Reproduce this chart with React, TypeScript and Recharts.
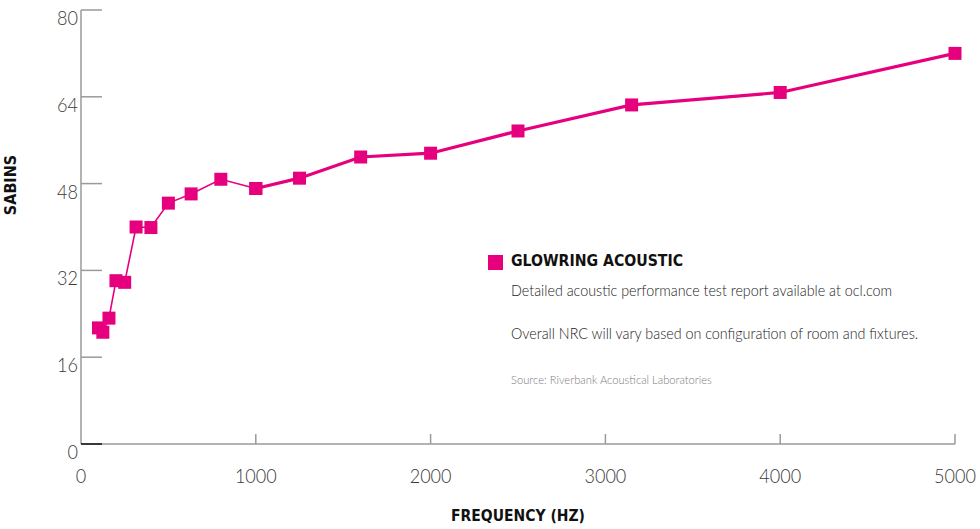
import React from "react";
import { Line, LineChart, XAxis, YAxis } from "recharts";

// third-octave band centre frequencies (Hz)
const frequencies = [100, 125, 160, 200, 250, 315, 400, 500, 630, 800, 1000, 1250, 1600, 2000, 2500, 3150, 4000, 5000];
// sabins
const sabins = [21.4, 20.6, 23.2, 30.1, 29.8, 40.0, 39.9, 44.4, 46.1, 48.8, 47.1, 49.0, 52.9, 53.6, 57.7, 62.5, 64.8, 72.0];

const xTicks = [0, 1000, 2000, 3000, 4000, 5000];
const yTicks = [0, 16, 32, 48, 64, 80];

const seriesName = "GLOWRING ACOUSTIC";
const noteLines = [
  "Detailed acoustic performance test report available at ocl.com",
  "Overall NRC will vary based on configuration of room and fixtures.",
];
const sourceNote = "Source: Riverbank Acoustical Laboratories";

const PINK = "#e6007e";
const AXIS = "#9a9a9a";
const LIGHT = "Lato, 'Open Sans', sans-serif";
const BOLD = "'DejaVu Sans Condensed', 'DejaVu Sans', sans-serif";

// the line is drawn thinner below 1 kHz than above it
const data = frequencies.map((f, i) => ({
  freq: f,
  low: f <= 1000 ? sabins[i] : null,
  high: f >= 1000 ? sabins[i] : null,
}));

const SquareDot = (props: any) => {
  const { cx, cy, value } = props;
  if (value == null || cx == null || cy == null) return null;
  return <rect x={cx - 6.5} y={cy - 6.5} width={13} height={13} fill={PINK} />;
};

const YTick = (props: any) => {
  const { x, y, payload } = props;
  const axisX = x + 3;
  return (
    <g>
      <line x1={axisX} x2={axisX + 21} y1={y} y2={y} stroke={payload.value === 0 ? "#111" : AXIS} strokeWidth={1.5} />
      <text
        transform={`translate(${x},${y + 15}) scale(0.88,1)`}
        textAnchor="end"
        fontFamily={LIGHT}
        fontWeight={300}
        fontSize={20.5}
        fill="#3a3a3a"
      >
        {payload.value}
      </text>
    </g>
  );
};

const XTick = (props: any) => {
  const { x, y, payload } = props;
  const axisY = y - 24;
  return (
    <g>
      {payload.value !== 0 && <line x1={x} x2={x} y1={axisY} y2={axisY - 10} stroke={AXIS} strokeWidth={1.5} />}
      <text
        transform={`translate(${x},${y + 15}) scale(0.88,1)`}
        textAnchor="middle"
        fontFamily={LIGHT}
        fontWeight={300}
        fontSize={20.5}
        fill="#3a3a3a"
      >
        {payload.value}
      </text>
    </g>
  );
};

const noteStyle: React.CSSProperties = {
  position: "absolute",
  left: 511,
  whiteSpace: "nowrap",
  lineHeight: 1,
  fontFamily: LIGHT,
  fontWeight: 300,
  transform: "scaleX(0.895)",
  transformOrigin: "left top",
};

const NoteBlock = () => (
  <>
    <div style={{ position: "absolute", left: 488, top: 255, width: 15, height: 15, background: PINK }} />
    <div
      style={{
        position: "absolute",
        left: 511,
        top: 253,
        whiteSpace: "nowrap",
        lineHeight: 1,
        fontFamily: BOLD,
        fontWeight: 700,
        fontSize: 16,
        color: "#111",
        transform: "scaleX(0.98)",
        transformOrigin: "left top",
      }}
    >
      {seriesName}
    </div>
    <div style={{ ...noteStyle, top: 281.5, fontSize: 16, color: "#222" }}>{noteLines[0]}</div>
    <div style={{ ...noteStyle, top: 324.5, fontSize: 16, color: "#222" }}>{noteLines[1]}</div>
    <div style={{ ...noteStyle, top: 373.5, fontSize: 12.5, color: "#7a7a7a" }}>{sourceNote}</div>
  </>
);

export default function App() {
  return (
    <div style={{ position: "absolute", left: 0, top: 0, width: 980, height: 529, background: "#fff" }}>
      <LineChart width={980} height={529} data={data} margin={{ top: 10, right: 25, left: 0, bottom: 35 }}>
        <XAxis
          dataKey="freq"
          type="number"
          domain={[0, 5000]}
          ticks={xTicks}
          interval={0}
          stroke={AXIS}
          strokeWidth={1.5}
          tickSize={0}
          tickMargin={24}
          tickLine={false}
          tick={<XTick />}
          height={50}
          label={{
            value: "FREQUENCY (HZ)",
            position: "insideBottom",
            offset: -27,
            style: { fontFamily: BOLD, fontWeight: 700, fontSize: 15.5, fill: "#111" },
          }}
        />
        <YAxis
          type="number"
          domain={[0, 80]}
          ticks={yTicks}
          interval={0}
          stroke={AXIS}
          strokeWidth={1.5}
          tickSize={0}
          tickMargin={3}
          tickLine={false}
          tick={<YTick />}
          width={81}
          label={{
            value: "SABINS",
            angle: -90,
            position: "insideLeft",
            offset: 10,
            style: { fontFamily: BOLD, fontWeight: 700, fontSize: 16, fill: "#111", textAnchor: "middle" },
            dy: -42,
          }}
        />
        <Line
          dataKey="low"
          stroke={PINK}
          strokeWidth={1.6}
          dot={<SquareDot />}
          activeDot={false}
          isAnimationActive={false}
          legendType="none"
        />
        <Line
          dataKey="high"
          stroke={PINK}
          strokeWidth={3.2}
          dot={<SquareDot />}
          activeDot={false}
          isAnimationActive={false}
          legendType="none"
        />
      </LineChart>
      <NoteBlock />
    </div>
  );
}
